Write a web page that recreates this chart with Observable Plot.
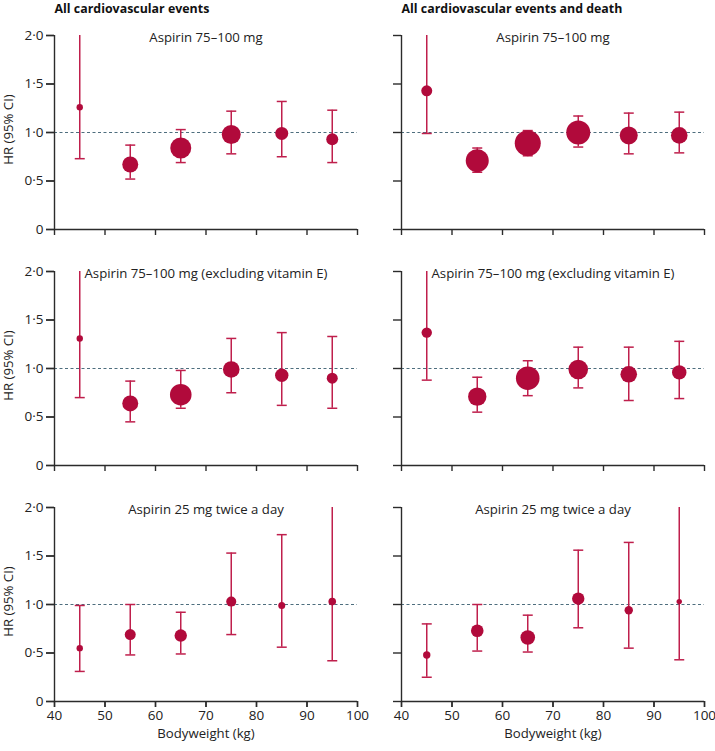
<!DOCTYPE html>
<html>
<head>
<meta charset="utf-8">
<script src="https://cdn.jsdelivr.net/npm/d3@7"></script>
<script src="https://cdn.jsdelivr.net/npm/@observablehq/plot@0.6"></script>
<style>
  html, body { margin: 0; padding: 0; background: #fff; }
  #chart { width: 715px; height: 751px; }
</style>
</head>
<body>
<div id="chart"></div>
<script>
// ---- categories ----
const outcomes = ["All cardiovascular events", "All cardiovascular events and death"];
const regimens = ["Aspirin 75–100 mg", "Aspirin 75–100 mg (excluding vitamin E)", "Aspirin 25 mg twice a day"];
const weights = [45, 55, 65, 75, 85, 95];
const xTicks = [40, 50, 60, 70, 80, 90, 100];
const yTicks = [0, 0.5, 1, 1.5, 2];
const yLabel = "HR (95% CI)";
const xLabel = "Bodyweight (kg)";

// ---- series (HR, lower CI, upper CI; upper of 2.0 = truncated at axis top; w = relative weight of estimate) ----
// All cardiovascular events, aspirin 75–100 mg
const hrCv75 = [1.26, 0.67, 0.84, 0.98, 0.99, 0.93];
const loCv75 = [0.73, 0.52, 0.69, 0.78, 0.75, 0.69];
const hiCv75 = [2.0, 0.87, 1.03, 1.22, 1.32, 1.23];
const wCv75  = [3.2, 8, 10.5, 9.5, 6.5, 6];
// All cardiovascular events and death, aspirin 75–100 mg
const hrCvd75 = [1.43, 0.71, 0.89, 1.00, 0.97, 0.97];
const loCvd75 = [0.99, 0.59, 0.76, 0.85, 0.78, 0.79];
const hiCvd75 = [2.0, 0.84, 1.02, 1.17, 1.20, 1.21];
const wCvd75  = [5.5, 11.5, 13, 12, 9, 8.3];
// All cardiovascular events, aspirin 75–100 mg (excluding vitamin E)
const hrCv75x = [1.31, 0.64, 0.73, 0.99, 0.93, 0.90];
const loCv75x = [0.70, 0.45, 0.59, 0.75, 0.62, 0.59];
const hiCv75x = [2.0, 0.87, 0.98, 1.31, 1.37, 1.33];
const wCv75x  = [3.2, 8, 10.8, 8.3, 6.7, 5.5];
// All cardiovascular events and death, aspirin 75–100 mg (excluding vitamin E)
const hrCvd75x = [1.37, 0.71, 0.90, 0.99, 0.94, 0.96];
const loCvd75x = [0.88, 0.55, 0.72, 0.80, 0.67, 0.69];
const hiCvd75x = [2.0, 0.91, 1.08, 1.22, 1.22, 1.28];
const wCvd75x  = [5.2, 9.2, 11.8, 9.8, 8.3, 7.2];
// All cardiovascular events, aspirin 25 mg twice a day
const hrCv25 = [0.55, 0.69, 0.68, 1.03, 0.99, 1.03];
const loCv25 = [0.31, 0.48, 0.49, 0.69, 0.56, 0.42];
const hiCv25 = [0.99, 1.00, 0.92, 1.53, 1.72, 2.0];
const wCv25  = [3.2, 5.5, 6.2, 5, 3.5, 3.8];
// All cardiovascular events and death, aspirin 25 mg twice a day
const hrCvd25 = [0.48, 0.73, 0.66, 1.06, 0.94, 1.03];
const loCvd25 = [0.25, 0.52, 0.51, 0.76, 0.55, 0.43];
const hiCvd25 = [0.80, 1.00, 0.89, 1.56, 1.64, 2.0];
const wCvd25  = [3.7, 6.3, 7.3, 6.2, 4.2, 2.7];

// ---- build table ----
const panels = [
  [0, 0, hrCv75, loCv75, hiCv75, wCv75],
  [1, 0, hrCvd75, loCvd75, hiCvd75, wCvd75],
  [0, 1, hrCv75x, loCv75x, hiCv75x, wCv75x],
  [1, 1, hrCvd75x, loCvd75x, hiCvd75x, wCvd75x],
  [0, 2, hrCv25, loCv25, hiCv25, wCv25],
  [1, 2, hrCvd25, loCvd25, hiCvd25, wCvd25]
];
const rows = [];
for (const [o, r, hr, lo, hi, w] of panels) {
  weights.forEach((x, i) => rows.push({
    outcome: outcomes[o], regimen: regimens[r], x, hr: hr[i], lo: lo[i], hi: hi[i], w: w[i]
  }));
}
const panelLabels = panels.map(([o, r]) => ({outcome: outcomes[o], regimen: regimens[r]}));

const RED = "#b10a3b";
const WHISKER = "#bf1f4c";
const AXIS = "#2b2b2b";
const FONT = "'Open Sans', Lato, sans-serif";
const fmt = d => d === 0 ? "0" : d.toFixed(1).replace(".", "·");

// horizontal cap symbol for CI whisker ends
const capSymbol = {
  draw(context, size) {
    const w = Math.sqrt(size / Math.PI);
    context.moveTo(-w, 0);
    context.lineTo(w, 0);
  }
};

const chart = Plot.plot({
  width: 715,
  height: 751,
  marginTop: 34,
  marginBottom: 50,
  marginLeft: 54,
  marginRight: 11,
  style: {fontFamily: FONT, fontSize: "13.2px", color: "#222", background: "#fff"},
  fx: {domain: outcomes, paddingInner: 0.127, paddingOuter: 0, axis: null},
  fy: {domain: regimens, paddingInner: 0.18, paddingOuter: 0, axis: null},
  x: {domain: [40, 100]},
  y: {domain: [0, 2]},
  r: {type: "linear", domain: [0, 20], range: [0, 20]},
  marks: [
    Plot.ruleY([1], {stroke: "#4e6e7e", strokeDasharray: "3,2.5", strokeWidth: 1.2}),
    Plot.ruleX(rows, {x: "x", y1: "lo", y2: "hi", fx: "outcome", fy: "regimen", stroke: WHISKER, strokeWidth: 1.5}),
    Plot.dot(rows, {x: "x", y: "lo", fx: "outcome", fy: "regimen", symbol: capSymbol, r: 5, fill: "none", stroke: WHISKER, strokeWidth: 1.5}),
    Plot.dot(rows.filter(d => d.hi < 2), {x: "x", y: "hi", fx: "outcome", fy: "regimen", symbol: capSymbol, r: 5, fill: "none", stroke: WHISKER, strokeWidth: 1.5}),
    Plot.dot(rows, {x: "x", y: "hr", r: "w", fx: "outcome", fy: "regimen", fill: RED, stroke: "none"}),
    // axis lines
    Plot.ruleX([40], {stroke: AXIS, strokeWidth: 1.4}),
    Plot.ruleY([0], {stroke: AXIS, strokeWidth: 1.4}),
    // ticks everywhere
    Plot.axisY({ticks: yTicks, tickSize: 8, tickFormat: () => "", facetAnchor: null, label: null, stroke: AXIS, strokeWidth: 1.4}),
    Plot.axisX({ticks: xTicks, tickSize: 6, tickFormat: () => "", facetAnchor: null, label: null, stroke: AXIS, strokeWidth: 1.4}),
    // labelled ticks
    Plot.axisY({ticks: yTicks, tickSize: 8, tickPadding: 3, tickFormat: fmt, facetAnchor: "left", label: null, stroke: AXIS, strokeWidth: 1.4, fontSize: 13.5, fill: "#222"}),
    Plot.axisX({ticks: xTicks, tickSize: 6, tickPadding: 3, tickFormat: d => String(d), facetAnchor: "bottom", label: null, stroke: AXIS, strokeWidth: 1.4, fontSize: 13.5, fill: "#222"}),
    // panel subtitles
    Plot.text(panelLabels, {fx: "outcome", fy: "regimen", text: "regimen", frameAnchor: "top", dy: -3, fontSize: 13.2, fill: "#222"}),
    // column titles
    Plot.text(outcomes, {fx: d => d, fy: () => regimens[0], text: d => d, frameAnchor: "top-left", dy: -31, fontWeight: "bold", fontSize: 12.4, fill: "#111"}),
    // y labels
    Plot.text(regimens, {fx: () => outcomes[0], fy: d => d, text: () => yLabel, frameAnchor: "left", dx: -46, dy: -3, rotate: -90, textAnchor: "middle", lineAnchor: "middle", fontSize: 13.2, fill: "#222"}),
    // x labels
    Plot.text(outcomes, {fx: d => d, fy: () => regimens[2], text: () => xLabel, frameAnchor: "bottom", dy: 32, lineAnchor: "middle", fontSize: 13.2, fill: "#222"})
  ]
});
document.getElementById("chart").appendChild(chart);
</script>
</body>
</html>
